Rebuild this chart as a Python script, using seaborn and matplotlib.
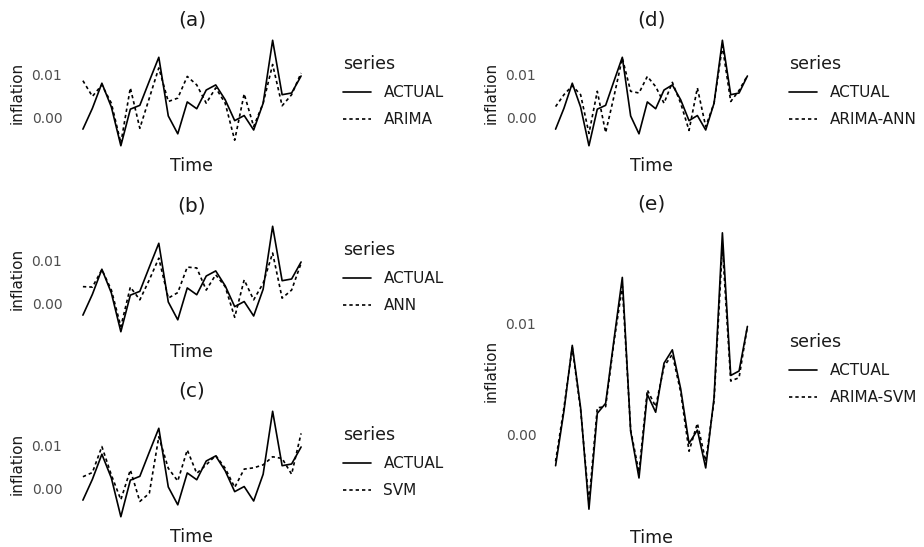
import pandas as pd
import numpy as np
import matplotlib
matplotlib.use('Agg')
import matplotlib.pyplot as plt
import seaborn as sns

# valores (24 periodos)
time = list(range(1, 25))

actual = [-0.0028, 0.0021, 0.0080, 0.0024, -0.0067, 0.0019, 0.0028, 0.0085,
          0.0141, 0.0003, -0.0039, 0.0036, 0.0020, 0.0064, 0.0076, 0.0041,
          -0.0008, 0.0004, -0.0030, 0.0033, 0.0181, 0.0053, 0.0057, 0.0097]

arima = [0.0086, 0.0049, 0.0076, 0.0033, -0.0061, 0.0069, -0.0026, 0.0045,
         0.0116, 0.0037, 0.0045, 0.0096, 0.0076, 0.0033, 0.0069, 0.0033,
         -0.0054, 0.0055, -0.0022, 0.0033, 0.0124, 0.0027, 0.0053, 0.0104]

ann = [0.0039, 0.0038, 0.0079, 0.0031, -0.0055, 0.0038, 0.0008, 0.0055,
       0.0106, 0.0012, 0.0025, 0.0085, 0.0083, 0.0031, 0.0067, 0.0039,
       -0.0033, 0.0055, 0.0008, 0.0047, 0.0118, 0.0012, 0.0031, 0.0094]

svm = [0.0027, 0.0037, 0.0098, 0.0031, -0.0027, 0.0043, -0.0031, -0.0012,
       0.0121, 0.0047, 0.0017, 0.0090, 0.0035, 0.0055, 0.0077, 0.0047,
       0.0002, 0.0045, 0.0048, 0.0055, 0.0074, 0.0070, 0.0033, 0.0129]

arima_ann = [0.0025, 0.0053, 0.0074, 0.0053, -0.0038, 0.0061, -0.0036, 0.0049,
             0.0139, 0.0061, 0.0057, 0.0096, 0.0072, 0.0033, 0.0082, 0.0033,
             -0.0031, 0.0069, -0.0022, 0.0033, 0.0167, 0.0037, 0.0063, 0.0098]

arima_svm = [-0.0024, 0.0024, 0.0078, 0.0022, -0.0061, 0.0024, 0.0025, 0.0083,
             0.0133, 0.0004, -0.0034, 0.0040, 0.0025, 0.0061, 0.0072, 0.0038,
             -0.0015, 0.0010, -0.0024, 0.0030, 0.0169, 0.0048, 0.0051, 0.0097]

paneles = [
    ('(a)', 'ARIMA', arima),
    ('(b)', 'ANN', ann),
    ('(c)', 'SVM', svm),
    ('(d)', 'ARIMA-ANN', arima_ann),
    ('(e)', 'ARIMA-SVM', arima_svm),
]

W, H = 924, 547

# (left, top, right, bottom) en pixeles
cajas = [
    (72, 35, 312, 151),
    (72, 221, 312, 337),
    (72, 406, 312, 522),
    (546, 35, 757, 151),
    (546, 219, 757, 523),
]
leyenda_x = [343, 343, 343, 789, 789]

sns.set_style('white')
plt.rcParams['font.family'] = ['DejaVu Sans']
plt.rcParams['text.color'] = '#1A1A1A'
plt.rcParams['axes.labelcolor'] = '#1A1A1A'

fig = plt.figure(figsize=(W / 100, H / 100), dpi=100)

for (titulo, modelo, valores), (l, t, r, b), lx in zip(paneles, cajas, leyenda_x):
    ax = fig.add_axes([l / W, 1 - b / H, (r - l) / W, (b - t) / H])
    df = pd.concat([
        pd.DataFrame({'Time': time, 'inflation': actual, 'series': 'ACTUAL'}),
        pd.DataFrame({'Time': time, 'inflation': valores, 'series': modelo}),
    ])
    sns.lineplot(data=df, x='Time', y='inflation', style='series',
                 dashes={'ACTUAL': '', modelo: (2, 1.8)}, color='black',
                 linewidth=1.2, ax=ax)
    handles, labels = ax.get_legend_handles_labels()
    ax.get_legend().remove()
    pares = [(h, lb) for h, lb in zip(handles, labels) if lb in ('ACTUAL', modelo)]

    for s in ax.spines.values():
        s.set_visible(False)
    ax.grid(False)
    ax.margins(x=0.05, y=0.05)
    ax.set_xticks([])
    ax.set_yticks([0.0, 0.01])
    ax.set_yticklabels(['0.00', '0.01'])
    ax.tick_params(axis='y', length=0, pad=7, labelsize=10, labelcolor='#4D4D4D')
    ax.set_xlabel('Time', fontsize=12.5, labelpad=4)
    ax.set_ylabel('inflation', fontsize=11, labelpad=5)
    ax.set_title(titulo, fontsize=14.5, pad=7)

    cy = 1 - ((t + b) / 2 - 2) / H
    leg = ax.legend([p[0] for p in pares], [p[1] for p in pares], title='series',
                    loc='center left', bbox_to_anchor=(lx / W, cy),
                    bbox_transform=fig.transFigure, frameon=False,
                    fontsize=11, title_fontsize=12.5, borderpad=0,
                    borderaxespad=0, handlelength=1.8, handletextpad=0.85,
                    labelspacing=0.8)
    leg._legend_box.align = 'left'

fig.savefig('out.png', dpi=100)
